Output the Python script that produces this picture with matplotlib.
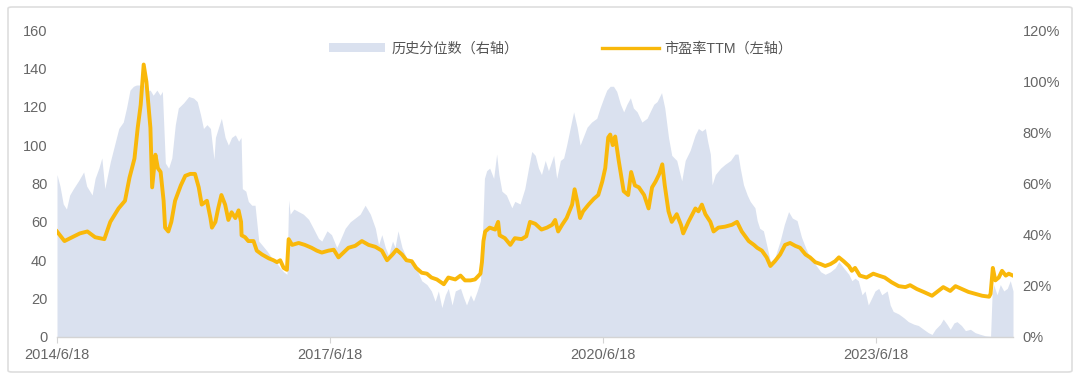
import matplotlib.pyplot as plt
import pandas as pd
from matplotlib.lines import Line2D
from matplotlib.patches import FancyBboxPatch, Patch

plt.rcParams["font.family"] = ["Liberation Sans", "Noto Sans CJK SC", "DejaVu Sans"]

AREA_COLOR = "#dae1ef"
LINE_COLOR = "#f9b80a"
TEXT_COLOR = "#666666"

# 市盈率TTM (left axis)
pe_dates = [
    "2014-06-18", "2014-07-18", "2014-08-18", "2014-09-18", "2014-10-18", "2014-11-18",
    "2014-12-25", "2015-01-18", "2015-02-20", "2015-03-18", "2015-04-05", "2015-04-25",
    "2015-05-08", "2015-05-20", "2015-06-01", "2015-06-12", "2015-06-28", "2015-07-05",
    "2015-07-18", "2015-07-28", "2015-08-08", "2015-08-20", "2015-08-26", "2015-09-08",
    "2015-09-20", "2015-10-05", "2015-10-28", "2015-11-15", "2015-12-05", "2015-12-24",
    "2016-01-08", "2016-01-20", "2016-02-10", "2016-02-24", "2016-03-01", "2016-03-15",
    "2016-03-26", "2016-04-08", "2016-04-23", "2016-05-06", "2016-05-19", "2016-06-03",
    "2016-06-16", "2016-06-26", "2016-06-28", "2016-07-12", "2016-07-25", "2016-08-15",
    "2016-08-28", "2016-09-18", "2016-10-15", "2016-11-03", "2016-11-17", "2016-11-30",
    "2016-12-14", "2016-12-27", "2017-01-03", "2017-01-17", "2017-02-12", "2017-03-09",
    "2017-04-05", "2017-04-26", "2017-05-16", "2017-06-12", "2017-07-03", "2017-07-22",
    "2017-08-11", "2017-08-31", "2017-09-27", "2017-10-24", "2017-11-20", "2017-12-17",
    "2018-01-12", "2018-02-02", "2018-02-24", "2018-03-12", "2018-04-03", "2018-04-21",
    "2018-05-12", "2018-05-30", "2018-06-21", "2018-07-12", "2018-07-30", "2018-08-21",
    "2018-09-18", "2018-10-06", "2018-11-03", "2018-11-24", "2018-12-12", "2019-01-03",
    "2019-01-21", "2019-02-12", "2019-02-18", "2019-02-24", "2019-03-03", "2019-03-21",
    "2019-04-12", "2019-04-24", "2019-04-30", "2019-05-21", "2019-06-12", "2019-06-30",
    "2019-07-27", "2019-08-15", "2019-08-30", "2019-09-20", "2019-10-15", "2019-11-06",
    "2019-11-27", "2019-12-09", "2019-12-21", "2020-01-06", "2020-01-24", "2020-02-15",
    "2020-02-25", "2020-03-06", "2020-03-18", "2020-03-30", "2020-04-21", "2020-05-12",
    "2020-05-30", "2020-06-15", "2020-06-27", "2020-07-09", "2020-07-17", "2020-07-27",
    "2020-08-06", "2020-08-20", "2020-09-03", "2020-09-09", "2020-09-27", "2020-10-09",
    "2020-10-24", "2020-11-09", "2020-11-30", "2020-12-18", "2021-01-01", "2021-01-15",
    "2021-01-30", "2021-02-11", "2021-02-21", "2021-03-08", "2021-03-21", "2021-04-10",
    "2021-04-27", "2021-05-06", "2021-05-27", "2021-06-24", "2021-07-06", "2021-07-20",
    "2021-08-03", "2021-08-23", "2021-09-05", "2021-09-24", "2021-10-21", "2021-11-18",
    "2021-12-08", "2021-12-27", "2022-01-24", "2022-02-14", "2022-02-27", "2022-03-18",
    "2022-04-06", "2022-04-21", "2022-05-09", "2022-05-30", "2022-06-19", "2022-07-09",
    "2022-07-30", "2022-08-18", "2022-09-09", "2022-09-27", "2022-10-18", "2022-11-09",
    "2022-11-27", "2022-12-18", "2023-01-06", "2023-01-21", "2023-02-09", "2023-03-02",
    "2023-03-14", "2023-03-27", "2023-04-15", "2023-05-12", "2023-06-08", "2023-06-30",
    "2023-07-24", "2023-08-21", "2023-09-18", "2023-10-15", "2023-11-03", "2023-11-30",
    "2023-12-27", "2024-01-30", "2024-02-19", "2024-03-15", "2024-04-12", "2024-05-03",
    "2024-05-29", "2024-06-24", "2024-07-21", "2024-08-18", "2024-09-15", "2024-09-21",
    "2024-09-30", "2024-10-10", "2024-10-24", "2024-11-06", "2024-11-21", "2024-12-03",
    "2024-12-20",
]
pe_values = [
    55, 50, 52, 54, 55, 52,
    51, 60, 67, 71, 83, 93,
    109, 121, 142, 133, 109, 78,
    95, 88, 86, 71, 57, 55,
    60, 71, 79, 84, 85, 85,
    78, 69, 71, 62, 57, 60,
    67, 74, 69, 61, 65, 62,
    66, 60, 53, 52, 50, 50,
    45, 43, 41, 40, 39, 40,
    36, 35, 51, 48, 49, 48,
    46.5, 45, 44, 45, 45.5, 41.5,
    44, 46.5, 47.5, 50, 48, 47,
    45, 40, 43, 45.5, 43, 40,
    39.5, 36, 33.5, 33, 31, 30,
    27.5, 31, 30, 32, 29.5, 29.5,
    30, 33, 39, 50, 55, 57,
    56, 60, 53, 51.5, 48, 51.5,
    51, 52.5, 60, 59, 56, 57,
    58.5, 61, 55, 58.5, 62, 69,
    77, 71, 62, 65.5, 69, 72,
    74, 81, 88, 104, 105.5, 100,
    104.5, 92, 81, 76, 74, 86,
    79, 78, 74, 67, 78, 81,
    85, 90, 79, 65.5, 60, 64,
    58.5, 54, 60, 67, 65.5, 69,
    64, 60, 55, 57, 57.5, 58.5,
    60, 55, 50, 48, 46.5, 45,
    41.5, 37, 39.5, 43, 48, 49,
    47.5, 46.5, 43, 41.5, 39, 38,
    37, 38, 39.5, 41.5, 39.5, 37,
    34.5, 36, 32, 31, 33, 32,
    31, 28.5, 26.5, 26, 27, 25,
    23.5, 21.5, 23.5, 26, 24, 26.5,
    25, 23.5, 22.5, 21.5, 21, 22.5,
    36, 29.5, 31, 34.5, 32, 33,
    32,
]

# 历史分位数 (right axis, %)
pct_dates = [
    "2014-06-18", "2014-06-30", "2014-07-13", "2014-07-26", "2014-08-08", "2014-08-23",
    "2014-09-12", "2014-10-03", "2014-10-15", "2014-11-06", "2014-11-18", "2014-12-03",
    "2014-12-15", "2014-12-27", "2015-01-18", "2015-02-08", "2015-02-21", "2015-03-11",
    "2015-03-24", "2015-04-07", "2015-04-21", "2015-05-03", "2015-05-17", "2015-05-30",
    "2015-06-13", "2015-06-27", "2015-07-09", "2015-07-24", "2015-08-06", "2015-08-15",
    "2015-08-27", "2015-09-09", "2015-09-22", "2015-10-06", "2015-10-18", "2015-11-08",
    "2015-11-29", "2015-12-18", "2016-01-02", "2016-01-15", "2016-01-27", "2016-02-10",
    "2016-02-24", "2016-03-09", "2016-03-15", "2016-03-26", "2016-04-08", "2016-04-23",
    "2016-05-06", "2016-05-19", "2016-06-03", "2016-06-16", "2016-06-26", "2016-07-01",
    "2016-07-15", "2016-07-25", "2016-08-08", "2016-08-21", "2016-09-05", "2016-09-18",
    "2016-10-09", "2016-10-27", "2016-11-12", "2016-11-30", "2016-12-14", "2016-12-27",
    "2017-01-03", "2017-01-09", "2017-01-24", "2017-02-12", "2017-03-03", "2017-03-24",
    "2017-04-12", "2017-05-03", "2017-05-16", "2017-06-06", "2017-06-24", "2017-07-15",
    "2017-07-27", "2017-08-18", "2017-09-07", "2017-09-27", "2017-10-17", "2017-11-06",
    "2017-11-27", "2017-12-17", "2017-12-30", "2018-01-12", "2018-01-26", "2018-02-08",
    "2018-02-24", "2018-03-06", "2018-03-18", "2018-04-03", "2018-04-21", "2018-05-12",
    "2018-05-30", "2018-06-21", "2018-07-12", "2018-07-30", "2018-08-14", "2018-08-27",
    "2018-09-10", "2018-09-24", "2018-10-06", "2018-10-21", "2018-11-03", "2018-11-24",
    "2018-12-06", "2018-12-18", "2019-01-03", "2019-01-15", "2019-01-30", "2019-02-12",
    "2019-02-21", "2019-02-28", "2019-03-09", "2019-03-21", "2019-04-06", "2019-04-18",
    "2019-04-27", "2019-05-09", "2019-05-27", "2019-06-18", "2019-06-30", "2019-07-21",
    "2019-08-09", "2019-08-24", "2019-09-06", "2019-09-20", "2019-10-03", "2019-10-15",
    "2019-10-30", "2019-11-12", "2019-12-03", "2019-12-15", "2019-12-30", "2020-01-12",
    "2020-01-24", "2020-02-08", "2020-02-21", "2020-03-06", "2020-03-18", "2020-03-30",
    "2020-04-15", "2020-05-03", "2020-05-24", "2020-06-06", "2020-06-21", "2020-07-03",
    "2020-07-17", "2020-07-30", "2020-08-12", "2020-08-27", "2020-09-09", "2020-09-22",
    "2020-10-06", "2020-10-18", "2020-11-02", "2020-11-21", "2020-12-12", "2020-12-24",
    "2021-01-08", "2021-01-21", "2021-02-08", "2021-02-21", "2021-03-08", "2021-03-21",
    "2021-04-10", "2021-04-30", "2021-05-14", "2021-06-03", "2021-06-23", "2021-07-06",
    "2021-07-20", "2021-08-03", "2021-08-12", "2021-08-23", "2021-08-30", "2021-09-12",
    "2021-10-03", "2021-10-21", "2021-11-12", "2021-11-30", "2021-12-12", "2021-12-21",
    "2022-01-03", "2022-01-18", "2022-01-30", "2022-02-18", "2022-02-27", "2022-03-09",
    "2022-03-24", "2022-04-06", "2022-04-21", "2022-05-09", "2022-05-30", "2022-06-16",
    "2022-07-03", "2022-07-18", "2022-08-06", "2022-08-24", "2022-09-09", "2022-09-27",
    "2022-10-18", "2022-11-09", "2022-11-27", "2022-12-18", "2023-01-06", "2023-01-21",
    "2023-02-09", "2023-03-02", "2023-03-14", "2023-03-27", "2023-04-09", "2023-04-24",
    "2023-05-06", "2023-05-19", "2023-06-03", "2023-06-15", "2023-06-30", "2023-07-12",
    "2023-08-03", "2023-08-15", "2023-08-27", "2023-09-18", "2023-10-09", "2023-10-27",
    "2023-11-18", "2023-12-06", "2023-12-27", "2024-01-15", "2024-01-30", "2024-02-12",
    "2024-03-03", "2024-03-15", "2024-03-30", "2024-04-12", "2024-04-27", "2024-05-09",
    "2024-05-27", "2024-06-12", "2024-07-02", "2024-07-21", "2024-08-12", "2024-08-30",
    "2024-09-21", "2024-09-27", "2024-10-03", "2024-10-17", "2024-10-30", "2024-11-13",
    "2024-11-27", "2024-12-09", "2024-12-20",
]
pct_values = [
    63.5, 59, 52, 50, 55.5, 58,
    61, 64.5, 59, 55.5, 62, 66,
    70, 58, 68.5, 76.5, 81.5, 84,
    89.5, 96.5, 98, 98.5, 98.5, 99.3,
    96, 96.5, 94.5, 96.5, 94.5, 96,
    68, 66, 70, 83, 89.5, 91.5,
    94, 93.4, 92, 87, 81.5, 83,
    81.5, 69.5, 78, 81.5, 85.5, 78,
    75, 78, 79, 76.5, 78, 58,
    57, 53, 51.5, 51.5, 37.5, 36,
    33.5, 31, 29.5, 27, 25.5, 24.5,
    53.5, 48, 50, 49, 48, 46,
    42.5, 38.5, 37.5, 41.5, 40, 35,
    37.5, 42.5, 45, 46.5, 48, 51.5,
    48, 42.5, 36, 40, 35, 32,
    37.5, 35, 41.5, 35, 31, 29.5,
    27, 22, 20.5, 18, 14, 18,
    11.5, 16.5, 19, 12.5, 18, 19,
    15.5, 12.5, 16.5, 14, 18, 22,
    42.5, 62, 65, 66, 62, 71.5,
    63.5, 57, 55.5, 50.5, 53, 52,
    58, 66, 72.5, 71, 66, 63.5,
    69, 65, 71, 62, 69, 70,
    75, 82, 88, 82, 75, 78,
    82, 84, 85.5, 89.5, 93.5, 96.5,
    98, 98, 96, 91, 88, 91,
    93.5, 89.5, 88, 84, 85.5, 88,
    91, 92, 95.5, 89.5, 78, 71,
    69, 61, 69, 73, 79, 81.5,
    80.5, 81.5, 76.5, 71.5, 59.5, 63.5,
    66, 67.5, 69, 71.5, 71.5, 66,
    59.5, 55.5, 53, 50.5, 45.5, 42.5,
    41.5, 36, 29.5, 31, 37.5, 44,
    49, 46.5, 45.5, 39, 35, 31,
    28.5, 25.5, 24.5, 25.5, 27, 29.5,
    27, 24.5, 22, 23, 22, 16.5,
    18, 12.5, 15.5, 18, 19, 16.5,
    18, 12.5, 10, 9, 7.5, 6,
    5, 4.5, 3, 1.7, 1, 3,
    5, 7, 5, 3, 5.5, 6,
    4.5, 2.5, 3, 1.7, 1, 0.5,
    0.3, 16.5, 20.5, 16.5, 20.5, 18,
    19, 22, 18,
]

tick_dates = ["2014-06-18", "2017-06-18", "2020-06-18", "2023-06-18"]
tick_labels = ["2014/6/18", "2017/6/18", "2020/6/18", "2023/6/18"]
left_ticks = [0, 20, 40, 60, 80, 100, 120, 140, 160]
right_ticks = [0, 20, 40, 60, 80, 100, 120]

fig = plt.figure(figsize=(10.8, 3.79), dpi=100)
ax = fig.add_axes([57 / 1080, 42 / 379, 956 / 1080, 307 / 379])
ax2 = ax.twinx()

ax2.fill_between(pd.to_datetime(pct_dates), pct_values, 0, color=AREA_COLOR, lw=0)
ax.plot(pd.to_datetime(pe_dates), pe_values, color=LINE_COLOR, lw=2.8, solid_joinstyle="round")

# line above the area
ax.set_zorder(ax2.get_zorder() + 1)
ax.patch.set_visible(False)

ax.set_xlim(pd.Timestamp("2014-06-18"), pd.Timestamp("2024-12-20"))
ax.set_ylim(0, 160)
ax2.set_ylim(0, 120)

ax.set_xticks(pd.to_datetime(tick_dates), tick_labels)
ax.set_yticks(left_ticks, [str(v) for v in left_ticks])
ax2.set_yticks(right_ticks, [f"{v}%" for v in right_ticks])

for a in (ax, ax2):
    for s in a.spines.values():
        s.set_visible(False)
ax.spines["bottom"].set_visible(True)
ax.spines["bottom"].set_color("#d4d4d4")
ax.spines["bottom"].set_linewidth(1.0)

ax.tick_params(axis="x", length=4, width=0.8, color="#d4d4d4",
               labelcolor=TEXT_COLOR, labelsize=10.5, pad=4)
ax.tick_params(axis="y", length=0, labelcolor=TEXT_COLOR, labelsize=10.5, pad=7)
ax2.tick_params(axis="y", length=0, labelcolor=TEXT_COLOR, labelsize=10.5, pad=7)

handles = [Patch(facecolor=AREA_COLOR, edgecolor="none"),
           Line2D([], [], color=LINE_COLOR, lw=2.4)]
labels = ["历史分位数（右轴）", "市盈率TTM（左轴）"]
fig.legend(handles, labels, ncol=2, loc="center", bbox_to_anchor=(0.519, 0.871),
           frameon=False, handlelength=4, handleheight=0.6, columnspacing=5.9,
           handletextpad=0.4, fontsize=10.2, labelcolor="#555555")

# light rounded frame around the whole chart
frame = FancyBboxPatch((8 / 1080, 7 / 379), 1064 / 1080, 365 / 379,
                       boxstyle="round,pad=0,rounding_size=0.004",
                       transform=fig.transFigure, fill=False,
                       edgecolor="#dedede", lw=1.2)
fig.patches.append(frame)

fig.savefig("out.png", dpi=100)
